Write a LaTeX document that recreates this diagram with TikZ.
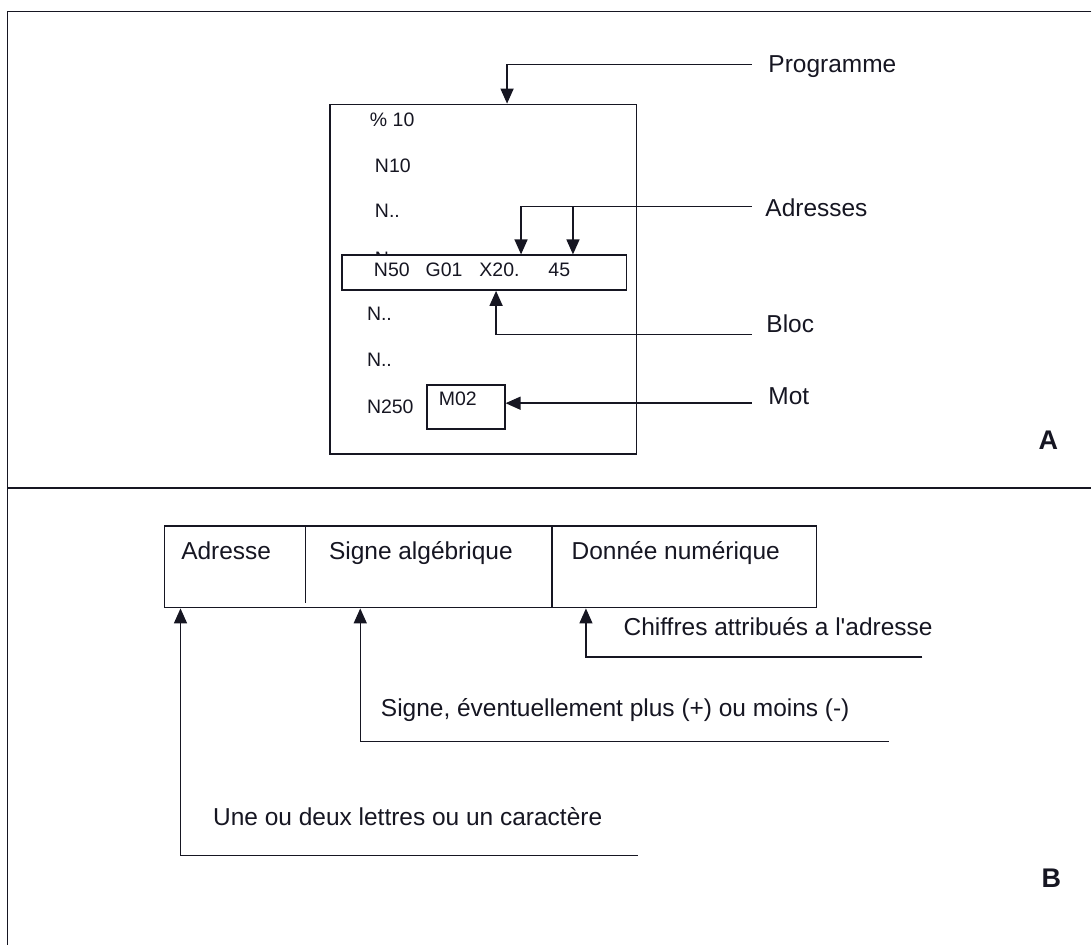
\documentclass[tikz,border=0pt]{standalone}
\usepackage{fontspec}
\setmainfont{Liberation Sans}
\usetikzlibrary{arrows.meta}
\definecolor{ink}{RGB}{22,22,34}
\begin{document}
\begin{tikzpicture}[x=1pt,y=-1pt,
  every path/.style={draw=ink, line width=1.5pt},
  arr/.style={-{Triangle[length=15pt,width=13pt]}},
  bigtxt/.style={inner sep=0pt, anchor=west, text=ink, text height=0.716em, text depth=0pt,
    font=\fontsize{24.5}{28}\selectfont},
  smalltxt/.style={inner sep=0pt, anchor=west, text=ink, text height=0.716em, text depth=0pt,
    font=\fontsize{19.5}{23}\selectfont},
  tag/.style={inner sep=0pt, text=ink, font=\fontsize{27}{30}\selectfont\bfseries},
  frame/.style={draw=ink, line width=1.5pt}]
\useasboundingbox (0,0) rectangle (1092,946);
\fill[white] (0,0) rectangle (1092,946);

% outer frame and the separation between parts A and B
\draw (1092,11) -- (7,11) -- (7,946);
\draw (7,488) -- (1092,488);

% ---------- part A : structure of a program ----------
\node[frame, anchor=north west, minimum width=307pt, minimum height=350pt, inner sep=0pt] (pbox) at (329,103) {};

\node[smalltxt] (l1) at (369,122) {\% 10};
\node[smalltxt] (l2) at (374,168) {N10};
\node[smalltxt] (l3) at (374,213) {N..};
\node[smalltxt] (l4) at (374,262) {N..};
% the framed block hides the line just above it
\node[frame, fill=white, anchor=north west, minimum width=285pt, minimum height=35pt, inner sep=0pt] (blk) at (341,254) {};
\node[smalltxt] (l5) at (373,273) {N50\hspace{16pt}G01\hspace{17pt}X20.\hspace{29pt}45};
\node[smalltxt] (l6) at (366,317) {N..};
\node[smalltxt] (l7) at (366,363) {N..};
\node[smalltxt] (l8) at (366,410) {N250};
\node[frame, anchor=north west, minimum width=78pt, minimum height=44pt, inner sep=0pt] (mot) at (426,384) {};
\node[smalltxt] (m02) at (438,402) {M02};

% labels on the right
\node[bigtxt] (tprog) at (768,68) {Programme};
\node[bigtxt] (tadr)  at (765,212) {Adresses};
\node[bigtxt] (tbloc) at (766,329) {Bloc};
\node[bigtxt] (tmot)  at (768,401) {Mot};
\coordinate (eprog) at (752,64);
\coordinate (eadr)  at (752,206);
\coordinate (ebloc) at (752,334);
\coordinate (emot)  at (752,403);

\draw[arr] (eprog) -| ([xshift=178pt]pbox.north west);
\draw[arr] (eadr) -| ([xshift=180pt]blk.north west);
\draw[arr] (eadr) -| ([xshift=232pt]blk.north west);
\draw[arr] (ebloc) -| ([xshift=155pt]blk.south west);
\draw[arr] (emot) -- (mot.east |- emot);

\node[tag] (tA) at (1049,440) {A};

% ---------- part B : structure of a word ----------
\node[frame, anchor=north west, minimum width=653pt, minimum height=82pt, inner sep=0pt] (fld) at (163,525) {};
\draw ([xshift=142pt]fld.north west) -- ([xshift=142pt,yshift=5pt]fld.south west);
\draw ([xshift=389pt]fld.north west) -- ([xshift=389pt]fld.south west);

\node[bigtxt] (f1) at (180,556) {Adresse};
\node[bigtxt] (f2) at (328,556) {Signe algébrique};
\node[bigtxt] (f3) at (571,556) {Donnée numérique};

\node[bigtxt] (d3) at (623,632) {Chiffres attribués a l\textquotesingle adresse};
\node[bigtxt] (d2) at (380,713) {Signe, éventuellement plus (+) ou moins (-)};
\node[bigtxt] (d1) at (212,822) {Une ou deux lettres ou un caractère};
\coordinate (e3) at (923,657);
\coordinate (e2) at (889,742);
\coordinate (e1) at (638,856);

\draw[arr] (e3) -| ([xshift=423pt]fld.south west);
\draw[arr] (e2) -| ([xshift=197pt]fld.south west);
\draw[arr] (e1) -| ([xshift=17pt]fld.south west);

\node[tag] (tB) at (1052,879) {B};
\end{tikzpicture}
\end{document}
